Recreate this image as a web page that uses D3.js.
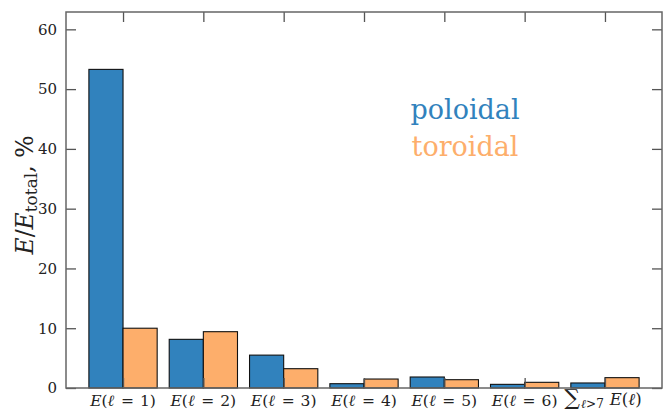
<!DOCTYPE html>
<html><head><meta charset="utf-8">
<script src="https://cdn.jsdelivr.net/npm/d3@7"></script>
<style>body{margin:0;background:#fff}svg{display:block}</style>
</head><body><svg id="c" width="663" height="412" font-family="DejaVu Serif"></svg>
<script>
const categories = ["1","2","3","4","5","6","sum"];
const poloidal = [53.3, 8.14, 5.5, 0.72, 1.84, 0.61, 0.84];
const toroidal = [10.0, 9.42, 3.23, 1.5, 1.39, 0.95, 1.73];
const yTicks = [0,10,20,30,40,50,60];
const seriesNames = ["poloidal","toroidal"];
const colors = ["#3182bd","#fdae6b"];
const FONT = "DejaVu Serif";

const svg = d3.select("#c");
const L=66, R=662, T=12, B=388;
const x = d3.scaleLinear().domain([-0.71, 6.71]).range([L, R]);
const y = d3.scaleLinear().domain([0, 62.9]).range([B, T]);
const bw = (x(1)-x(0))*0.425;

const g = svg.append("g");
[poloidal, toroidal].forEach((vals, s) => {
  g.selectAll(null).data(vals).enter().append("rect")
    .attr("x", (d,i)=> s===0 ? x(i)-bw : x(i))
    .attr("y", d=>y(d)).attr("width", bw).attr("height", d=>y(0)-y(d))
    .attr("fill", colors[s]).attr("stroke","#111").attr("stroke-width",1.1);
});

const axL = d3.axisLeft(y).tickValues(yTicks).tickSize(-10);
const gl = svg.append("g").attr("transform",`translate(${L},0)`).call(axL);
const axR = d3.axisRight(y).tickValues(yTicks).tickSize(-10).tickFormat("");
const gr = svg.append("g").attr("transform",`translate(${R},0)`).call(axR);
const idx = d3.range(categories.length);
const axT = d3.axisTop(x).tickValues(idx).tickSize(-10).tickFormat("");
const gt = svg.append("g").attr("transform",`translate(0,${T})`).call(axT);
const axB = d3.axisBottom(x).tickValues(idx).tickSize(-10).tickFormat("");
const gb = svg.append("g").attr("transform",`translate(0,${B})`).call(axB);
[gl,gr,gt,gb].forEach(a=>{
  a.attr("font-family", FONT);
  a.select(".domain").remove();
  a.selectAll("line").attr("stroke","#555").attr("stroke-width",1.3);
});
gl.selectAll("text").attr("font-size",15).attr("fill","#222").attr("x",-9).attr("text-anchor","end");
svg.append("rect").attr("x",L).attr("y",T).attr("width",R-L).attr("height",B-T)
  .attr("fill","none").attr("stroke","#666").attr("stroke-width",1.5);

idx.forEach(i=>{
  const t = svg.append("text").attr("x", x(i)).attr("y", 406).attr("text-anchor","middle")
    .attr("font-size",15.5).attr("fill","#222").attr("font-family",FONT);
  if (categories[i]!=="sum") {
    t.append("tspan").attr("font-style","italic").text("E");
    t.append("tspan").text("(");
    t.append("tspan").attr("font-style","italic").text("ℓ");
    t.append("tspan").attr("dx",2).text(" = ");
    t.append("tspan").attr("dx",1).text(categories[i] + ")");
  } else {
    t.attr("x", x(i) - 2).attr("y", 405).attr("font-size",16.5);
    t.append("tspan").attr("font-size",22).text("∑");
    t.append("tspan").attr("font-size",12).attr("dy",2.5).attr("dx",1).attr("font-style","italic").text("ℓ");
    t.append("tspan").attr("font-size",12).text(">7");
    t.append("tspan").attr("dy",-2.5).attr("dx",6).attr("font-style","italic").text("E");
    t.append("tspan").text("(");
    t.append("tspan").attr("font-style","italic").text("ℓ");
    t.append("tspan").text(")");
  }
});

const yl = svg.append("text").attr("transform","translate(33,195) rotate(-90)").attr("text-anchor","middle")
  .attr("font-size",23.5).attr("fill","#222").attr("font-family",FONT);
yl.append("tspan").attr("font-style","italic").text("E");
yl.append("tspan").text("/");
yl.append("tspan").attr("font-style","italic").text("E");
yl.append("tspan").attr("font-size",17).attr("dy",4).text("total");
yl.append("tspan").attr("dy",-4).text(", %");

seriesNames.forEach((n,i)=>{
  svg.append("text").attr("x",465).attr("y",119+i*37).attr("text-anchor","middle")
    .attr("font-size",27).attr("fill",colors[i]).attr("font-family",FONT).text(n);
});
</script></body></html>
